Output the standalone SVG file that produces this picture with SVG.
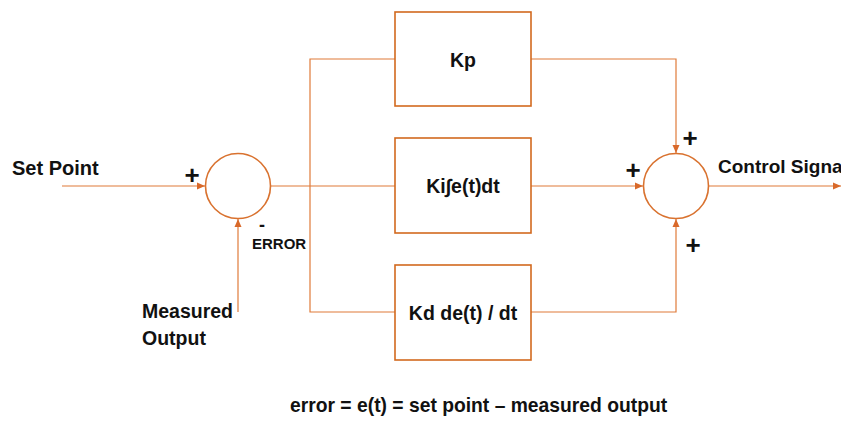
<svg xmlns="http://www.w3.org/2000/svg" width="841" height="423" viewBox="0 0 841 423">
<style>
.box{fill:#fff;stroke:#D2691E;stroke-width:1.6}
.ln{fill:none;stroke:#E07B39;stroke-width:1.2}
.sum{fill:#fff;stroke:#D9722F;stroke-width:1.6}
.t{font-family:"Liberation Sans",Arial,sans-serif;font-weight:bold;fill:#111;font-size:19.5px}
.pl{font-family:"Liberation Sans",Arial,sans-serif;font-weight:bold;fill:#111;font-size:26px;text-anchor:middle}
</style>
<defs>
<marker id="ah" markerUnits="userSpaceOnUse" markerWidth="8" markerHeight="8" viewBox="0 0 8 8" refX="8" refY="4" orient="auto">
<path d="M0,0.5 L8,4 L0,7.5 Z" fill="#D9692A"/>
</marker>
</defs>
<g id="connectors">
<line class="ln" x1="62" y1="186" x2="205" y2="186" marker-end="url(#ah)"/>
<line class="ln" x1="238" y1="312" x2="238" y2="219" marker-end="url(#ah)"/>
<line class="ln" x1="271" y1="186" x2="395" y2="186"/>
<polyline class="ln" points="395,59 310,59 310,312 395,312"/>
<polyline class="ln" points="531,59 676,59 676,153" marker-end="url(#ah)"/>
<line class="ln" x1="531" y1="186" x2="643" y2="186" marker-end="url(#ah)"/>
<polyline class="ln" points="531,312 676,312 676,219" marker-end="url(#ah)"/>
<line class="ln" x1="709" y1="186" x2="841" y2="186" marker-end="url(#ah)"/>
</g>
<g id="sum1">
<circle class="sum" cx="238" cy="186" r="32.5"/>
</g>
<g id="sum2">
<circle class="sum" cx="676" cy="186" r="32.5"/>
</g>
<g id="kp">
<rect class="box" x="395" y="12" width="136" height="94"/>
<text class="t" x="463" y="67" text-anchor="middle">Kp</text>
</g>
<g id="ki">
<rect class="box" x="395" y="138" width="136" height="95"/>
<text class="t" x="463" y="193" text-anchor="middle">Ki∫e(t)dt</text>
</g>
<g id="kd">
<rect class="box" x="395" y="265" width="136" height="95"/>
<text class="t" x="463" y="320" text-anchor="middle">Kd de(t) / dt</text>
</g>
<g id="labels">
<text class="t" x="12" y="175" style="font-size:20px">Set Point</text>
<text class="t" x="142" y="318">Measured</text>
<text class="t" x="142" y="345">Output</text>
<text class="t" x="252" y="249" style="font-size:15px">ERROR</text>
<text class="t" x="718" y="173" style="font-size:19px">Control Signa</text>
<text class="pl" x="192" y="184">+</text>
<text class="t" x="262" y="231" text-anchor="middle" style="font-size:18px">-</text>
<text class="pl" x="690" y="147">+</text>
<text class="pl" x="633" y="179">+</text>
<text class="pl" x="693" y="254">+</text>
<text class="t" x="290" y="412" style="font-size:19.3px">error = e(t) = set point – measured output</text>
</g>
</svg>
